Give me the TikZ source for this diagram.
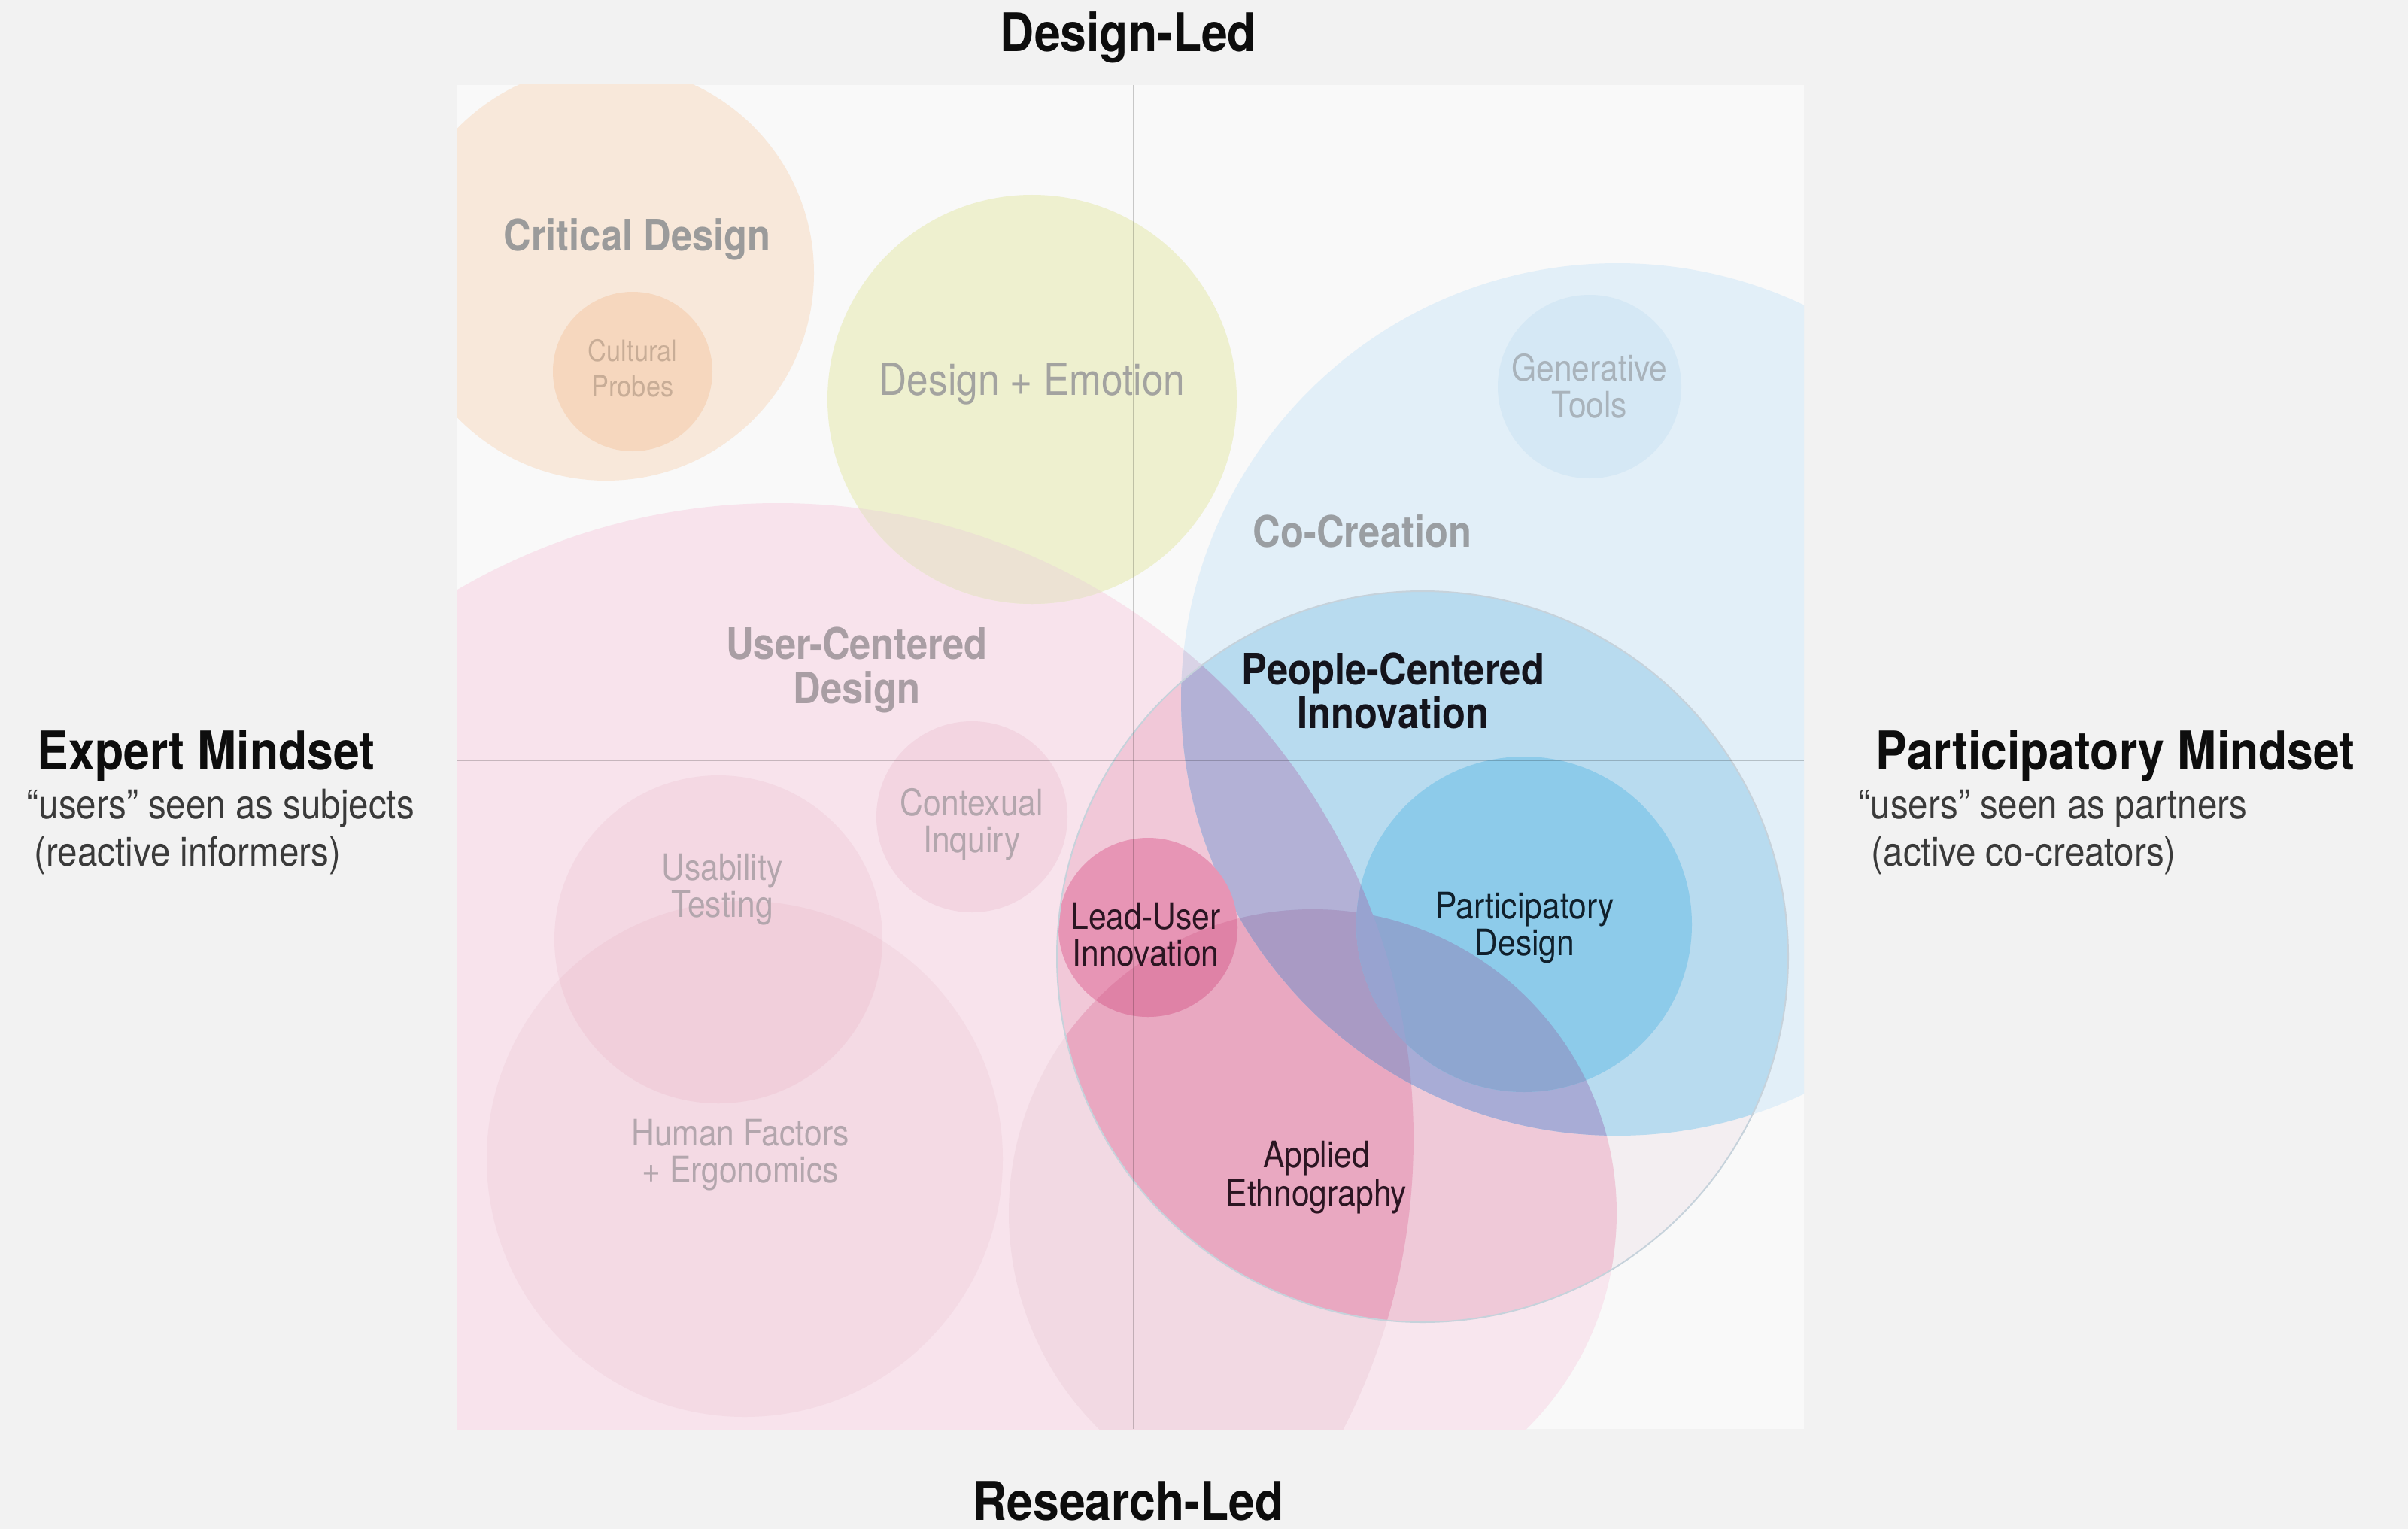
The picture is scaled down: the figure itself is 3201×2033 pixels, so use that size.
\documentclass[tikz,border=0pt]{standalone}
\usepackage{fontspec}
\setmainfont{TeX Gyre Heros}[FakeStretch=0.88]
\definecolor{bgc}{HTML}{F2F2F2}
\definecolor{sqc}{HTML}{F9F9F9}
\definecolor{cdc}{HTML}{F8E8DA}
\definecolor{cpc}{HTML}{F6D7BE}
\definecolor{ucdc}{HTML}{F8E3EC}
\definecolor{dec}{HTML}{EEF0CF}
\definecolor{deucd}{HTML}{ECE2D3}
\definecolor{coc}{HTML}{E2EFF8}
\definecolor{gtc}{HTML}{D5E8F5}
\definecolor{cic}{HTML}{F3D5E1}
\definecolor{hfc}{HTML}{F4DAE4}
\definecolor{utc}{HTML}{F4D8E3}
\definecolor{uthf}{HTML}{F1CFDB}
\definecolor{btc}{HTML}{F8E6EE}
\definecolor{btucd}{HTML}{F2D9E3}
\definecolor{coucd}{HTML}{D9D3E6}
\definecolor{pcic}{HTML}{F3EEF1}
\definecolor{pU}{HTML}{F1C8D8}
\definecolor{pB}{HTML}{EFC9D8}
\definecolor{pUB}{HTML}{E9A8C1}
\definecolor{pC}{HTML}{B8DBEF}
\definecolor{pCU}{HTML}{B3B1D6}
\definecolor{pCB}{HTML}{A8ACD6}
\definecolor{pCUB}{HTML}{A99AC4}
\definecolor{pdc}{HTML}{8DCBEA}
\definecolor{pdB}{HTML}{8EA6D0}
\definecolor{pdU}{HTML}{98A3D0}
\definecolor{luc}{HTML}{E795B5}
\definecolor{luB}{HTML}{DF82A6}
\definecolor{outl}{HTML}{C6D2DB}
\definecolor{axisc}{HTML}{0D0D0D}
\definecolor{subc}{HTML}{3A3A3A}
\definecolor{grayA}{HTML}{9B9B9B}
\definecolor{grayCo}{HTML}{9A9EA2}
\definecolor{grayU}{HTML}{A99EA4}
\definecolor{grayDE}{HTML}{A3A3A0}
\definecolor{grayGT}{HTML}{A9B3BB}
\definecolor{grayP}{HTML}{B3A6AD}
\definecolor{grayCP}{HTML}{C8AD97}
\definecolor{darkP}{HTML}{14141C}
\definecolor{darkR}{HTML}{2B1522}
\definecolor{darkB}{HTML}{10202C}
\def\zzSq{(607,113) rectangle (2398,1900)}
\def\zzCD{(806,363) circle (276)}
\def\zzCP{(841,494) circle (106)}
\def\zzDE{(1372,531) circle (272)}
\def\zzUCD{(1034,1514) circle (845)}
\def\zzCO{(2150,930) circle (580)}
\def\zzGT{(2113,514) circle (122)}
\def\zzCI{(1292,1086) circle (127)}
\def\zzUT{(955,1249) circle (218)}
\def\zzHF{(990,1541) circle (343)}
\def\zzBT{(1745,1613) circle (404)}
\def\zzPCI{(1891,1272) circle (486)}
\def\zzPD{(2026,1229) circle (223)}
\def\zzLU{(1526,1233) circle (119)}
\begin{document}
\begin{tikzpicture}[x=0.25pt,y=-0.25pt,
  axislab/.style={font=\fontsize{17.75}{18}\selectfont\bfseries, text=axisc, inner sep=0pt, anchor=base},
  sublab/.style={font=\fontsize{13.5}{14}\selectfont, text=subc, inner sep=0pt, anchor=base west},
  boldlab/.style={font=\fontsize{14.4}{14.5}\selectfont\bfseries, inner sep=0pt, anchor=base},
  smalllab/.style={font=\fontsize{12.1}{12.2}\selectfont, inner sep=0pt, anchor=base},
  tinylab/.style={font=\fontsize{9.75}{10}\selectfont, inner sep=0pt, anchor=base, text=grayCP},
  axisline/.style={black, opacity=0.2, line width=0.6pt}]
\fill[bgc] (0,0) rectangle (3201,2033);
\useasboundingbox (0,0) rectangle (3201,2033);
\fill[sqc] \zzSq;
\begin{scope}
  \clip \zzSq;
  \fill[cdc] \zzCD;
  \fill[cpc] \zzCP;
  \fill[ucdc] \zzUCD;
  \fill[dec] \zzDE;
  \begin{scope}\clip \zzUCD; \fill[deucd] \zzDE; \end{scope}
  \fill[coc] \zzCO;
  \fill[gtc] \zzGT;
  \fill[cic] \zzCI;
  \fill[hfc] \zzHF;
  \fill[utc] \zzUT;
  \begin{scope}\clip \zzHF; \fill[uthf] \zzUT; \end{scope}
  \fill[btc] \zzBT;
  \begin{scope}\clip \zzUCD; \fill[btucd] \zzBT; \end{scope}
  \begin{scope}\clip \zzUCD; \fill[coucd] \zzCO; \end{scope}
  % people-centered innovation circle and its overlaps
  \fill[pcic] \zzPCI;
  \begin{scope}
    \clip \zzPCI;
    \fill[pU] \zzUCD;
    \fill[pB] \zzBT;
    \begin{scope}\clip \zzUCD; \fill[pUB] \zzBT; \end{scope}
    \fill[pC] \zzCO;
    \begin{scope}
      \clip \zzCO;
      \fill[pCU] \zzUCD;
      \fill[pCB] \zzBT;
      \begin{scope}\clip \zzUCD; \fill[pCUB] \zzBT; \end{scope}
    \end{scope}
    \fill[pdc] \zzPD;
    \begin{scope}\clip \zzPD; \fill[pdB] \zzBT; \fill[pdU] \zzUCD; \end{scope}
    \fill[luc] \zzLU;
    \begin{scope}\clip \zzLU; \fill[luB] \zzBT; \end{scope}
  \end{scope}
  \draw[outl, line width=0.5pt] \zzPCI;
  \coordinate (vt) at (1507,113);
  \coordinate (vb) at (1507,1900);
  \coordinate (hl) at (607,1011);
  \coordinate (hr) at (2398,1011);
  \draw[axisline] (vt) -- (vb);
  \draw[axisline] (hl) -- (hr);
\end{scope}
% axis labels
\node[axislab] (dled) at (1500,69) {Design-Led};
\node[axislab] (rled) at (1500,2021) {Research-Led};
\node[axislab, anchor=base west] (exp) at (49,1023) {Expert Mindset};
\node[sublab] (exp2) at (35,1088) {“users” seen as subjects};
\node[sublab] (exp3) at (45,1151) {(reactive informers)};
\node[axislab, anchor=base west] (par) at (2493,1023) {Participatory Mindset};
\node[sublab] (par2) at (2470,1088) {“users” seen as partners};
\node[sublab] (par3) at (2487,1151) {(active co-creators)};
% inner labels
\node[boldlab, text=grayA] (crit) at (847,333) {Critical Design};
\node[tinylab] (cult1) at (841,480) {Cultural};
\node[tinylab] (cult2) at (841,527) {Probes};
\node[font=\fontsize{14.6}{15}\selectfont, inner sep=0pt, anchor=base, text=grayDE] (demo) at (1372,525) {Design + Emotion};
\node[smalllab, text=grayGT] (gen1) at (2113,506) {Generative};
\node[smalllab, text=grayGT] (gen2) at (2113,555) {Tools};
\node[boldlab, text=grayCo] (cocr) at (1811,727) {Co-Creation};
\node[boldlab, text=grayU] (ucd1) at (1139,876) {User-Centered};
\node[boldlab, text=grayU] (ucd2) at (1139,935) {Design};
\node[boldlab, text=darkP] (pci1) at (1852,910) {People-Centered};
\node[boldlab, text=darkP] (pci2) at (1852,968) {Innovation};
\node[smalllab, text=grayP] (ci1) at (1292,1084) {Contexual};
\node[smalllab, text=grayP] (ci2) at (1292,1133) {Inquiry};
\node[smalllab, text=grayP] (ut1) at (960,1170) {Usability};
\node[smalllab, text=grayP] (ut2) at (960,1219) {Testing};
\node[smalllab, text=darkR] (lu1) at (1523,1235) {Lead-User};
\node[smalllab, text=darkR] (lu2) at (1523,1284) {Innovation};
\node[smalllab, text=darkB] (pd1) at (2027,1221) {Participatory};
\node[smalllab, text=darkB] (pd2) at (2027,1270) {Design};
\node[smalllab, text=grayP] (hf1) at (984,1523) {Human Factors};
\node[smalllab, text=grayP] (hf2) at (984,1572) {+ Ergonomics};
\node[smalllab, text=darkR] (ae1) at (1750,1552) {Applied};
\node[smalllab, text=darkR] (ae2) at (1750,1603) {Ethnography};
\end{tikzpicture}
\end{document}
